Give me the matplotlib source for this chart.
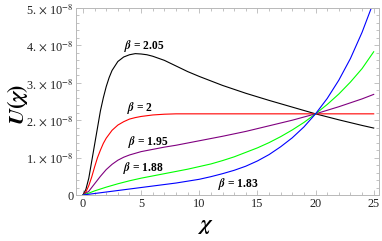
import matplotlib
matplotlib.use("Agg")
import matplotlib.pyplot as plt
from matplotlib.ticker import MultipleLocator, FixedLocator, FixedFormatter

plt.rcParams['font.family'] = ['Liberation Serif', 'DejaVu Serif']
plt.rcParams['mathtext.fontset'] = 'stix'

SCALE = 1e-8

# beta = 2.05 (black)
chi_205 = [0, 0.25, 0.5, 0.75, 1, 1.25, 1.5, 1.75, 2, 2.25, 2.5, 3, 3.5, 4, 4.5, 5, 5.5, 6, 7, 8, 9, 10, 12, 14, 16, 18, 20, 22, 24, 25]
u_205 = [0, 0.15, 0.45, 0.9, 1.35, 1.8, 2.25, 2.6, 2.9, 3.14, 3.33, 3.57, 3.69, 3.75, 3.78, 3.77, 3.75, 3.71, 3.6, 3.45, 3.3, 3.17, 2.93, 2.72, 2.53, 2.35, 2.17, 2.01, 1.86, 1.79]

# beta = 2 (red)
chi_200 = [0, 0.25, 0.5, 0.75, 1, 1.25, 1.5, 1.75, 2, 2.5, 3, 3.5, 4, 4.5, 5, 6, 7, 8, 10, 15, 20, 25]
u_200 = [0, 0.08, 0.25, 0.48, 0.75, 1.0, 1.2, 1.38, 1.52, 1.73, 1.87, 1.96, 2.03, 2.07, 2.1, 2.14, 2.16, 2.17, 2.17, 2.17, 2.17, 2.17]

# beta = 1.95 (purple)
chi_195 = [0, 0.5, 1, 1.5, 2, 2.5, 3, 3.5, 4, 5, 6, 7, 8, 10, 12, 14, 16, 18, 20, 22, 24, 25]
u_195 = [0, 0.1, 0.3, 0.5, 0.68, 0.82, 0.93, 1.01, 1.07, 1.16, 1.22, 1.28, 1.33, 1.45, 1.57, 1.7, 1.85, 2.0, 2.17, 2.36, 2.57, 2.69]

# beta = 1.88 (green)
chi_188 = [0, 0.5, 1, 1.5, 2, 3, 4, 5, 6, 7, 8, 9, 10, 11, 12, 13, 14, 15, 16, 17, 18, 19, 20, 21, 22, 23, 24, 25]
u_188 = [0, 0.05, 0.11, 0.16, 0.21, 0.3, 0.38, 0.45, 0.51, 0.57, 0.63, 0.69, 0.76, 0.83, 0.92, 1.02, 1.14, 1.26, 1.4, 1.56, 1.74, 1.94, 2.17, 2.42, 2.7, 3.02, 3.38, 3.83]

# beta = 1.83 (blue)
chi_183 = [0, 1, 2, 3, 4, 5, 6, 7, 8, 9, 10, 11, 12, 13, 14, 15, 16, 17, 18, 19, 20, 21, 22, 23, 24, 25]
u_183 = [0, 0.04, 0.08, 0.12, 0.16, 0.2, 0.24, 0.28, 0.32, 0.37, 0.42, 0.49, 0.57, 0.66, 0.77, 0.91, 1.08, 1.29, 1.53, 1.82, 2.17, 2.58, 3.07, 3.65, 4.35, 5.17]

series = [
    (chi_205, u_205, 'black'),
    (chi_200, u_200, '#ff0000'),
    (chi_195, u_195, '#800080'),
    (chi_188, u_188, '#00ff00'),
    (chi_183, u_183, '#0000ff'),
]

labels = [r"$\boldsymbol{\beta}$ = 2.05", r"$\boldsymbol{\beta}$ = 2", r"$\boldsymbol{\beta}$ = 1.95",
          r"$\boldsymbol{\beta}$ = 1.88", r"$\boldsymbol{\beta}$ = 1.83"]
label_chi = [5.3, 4.9, 5.6, 5.2, 13.35]
label_u = [3.98, 2.32, 1.43, 0.71, 0.29]

y_ticks = [0, 1, 2, 3, 4, 5]
y_tick_labels = ["0", r"1. $\times$ 10$^{-8}$", r"2. $\times$ 10$^{-8}$", r"3. $\times$ 10$^{-8}$",
                 r"4. $\times$ 10$^{-8}$", r"5. $\times$ 10$^{-8}$"]
x_ticks = [0, 5, 10, 15, 20, 25]

fig = plt.figure(figsize=(3.82, 2.41), dpi=100)
ax = fig.add_axes([76/382, 1-195/241, (378.7-76)/382, (195-8)/241])

for x, u, c in series:
    ax.plot(x, [v*SCALE for v in u], color=c, lw=0.8)

for t, lx, ly in zip(labels, label_chi, label_u):
    ax.text(lx, ly*SCALE, t, ha='center', va='center', fontsize=8.3, fontweight='bold',
            family=['Liberation Serif'])

ax.set_xlim(-0.6, 25.43)
ax.set_ylim(0, 5*SCALE)
ax.xaxis.set_major_locator(FixedLocator(x_ticks))
ax.xaxis.set_minor_locator(MultipleLocator(1))
ax.yaxis.set_major_locator(FixedLocator([v*SCALE for v in y_ticks]))
ax.yaxis.set_major_formatter(FixedFormatter(y_tick_labels))
ax.yaxis.set_minor_locator(MultipleLocator(0.2*SCALE))

frame_col = '#b8b8b8'
for s in ax.spines.values():
    s.set_color(frame_col)
    s.set_linewidth(0.7)
ax.tick_params(which='both', direction='in', top=True, right=True, color=frame_col,
               labelsize=8.8, labelcolor='#222222', width=0.6)
ax.tick_params(which='major', length=3.5, pad=2)
ax.tick_params(which='minor', length=2)

ax.set_xlabel(r"$\boldsymbol{\chi}$", fontsize=16, va='center')
ax.xaxis.set_label_coords((205-76)/302.7, (195-226)/187)
ax.set_ylabel(r"$\boldsymbol{U(\chi)}$", fontsize=16, va='center')
ax.yaxis.set_label_coords((18-76)/302.7, (195-105)/187)

fig.savefig("out.png", dpi=100)
